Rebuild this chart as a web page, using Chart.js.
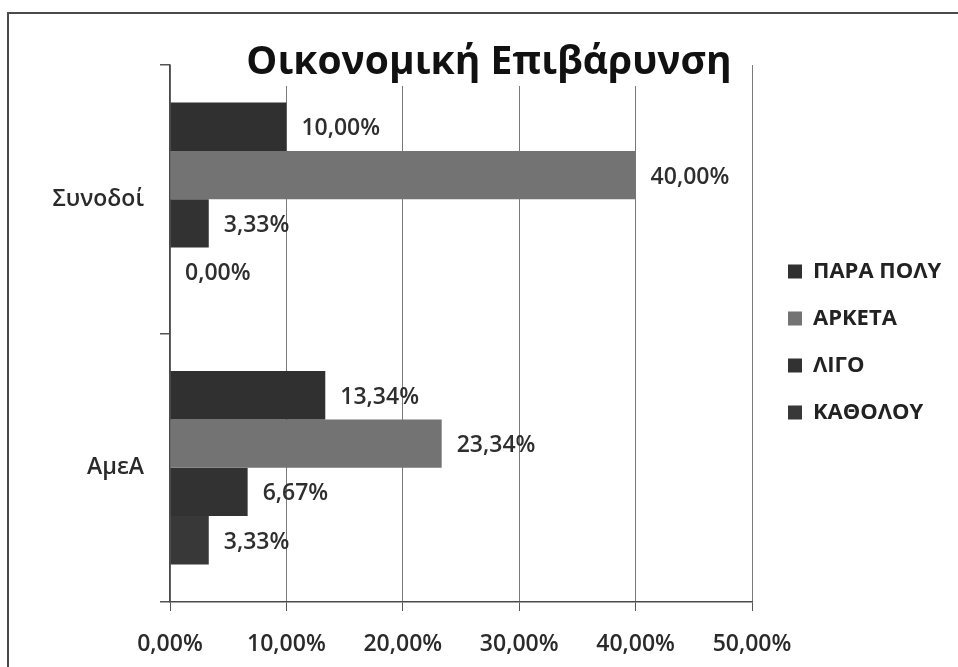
<!DOCTYPE html>
<html lang="el">
<head>
<meta charset="utf-8">
<title>Οικονομική Επιβάρυνση</title>
<script src="https://cdn.jsdelivr.net/npm/chart.js@4/dist/chart.umd.min.js"></script>
<style>
  html, body { margin: 0; padding: 0; background: #ffffff; }
  #wrap { position: relative; width: 958px; height: 667px; overflow: hidden; }
  #frame {
    position: absolute; left: 7px; top: 12px; right: -4px; bottom: -4px;
    border-top: 2px solid #4a4a4a; border-left: 2px solid #4a4a4a;
    pointer-events: none;
  }
  canvas { position: absolute; left: 0; top: 0; }
</style>
</head>
<body>
<div id="wrap">
  <canvas id="chart" width="958" height="667"></canvas>
  <div id="frame"></div>
</div>
<script>
// Categories, series and values (percent)
const categories = ['Συνοδοί', 'ΑμεΑ'];
const seriesNames = ['ΠΑΡΑ ΠΟΛΥ', 'ΑΡΚΕΤΑ', 'ΛΙΓΟ', 'ΚΑΘΟΛΟΥ'];
const paraPoly = [10.00, 13.34];
const arketa   = [40.00, 23.34];
const ligo     = [3.33, 6.67];
const katholou = [0.00, 3.33];
const xTickLabels = ['0,00%', '10,00%', '20,00%', '30,00%', '40,00%', '50,00%'];
const chartTitle = 'Οικονομική Επιβάρυνση';

const seriesValues = [paraPoly, arketa, ligo, katholou];
const seriesColors = ['#303030', '#737373', '#323232', '#383838'];

const FONT = '"Open Sans", "Noto Sans", sans-serif';
const legendFont = { family: FONT, size: 22, weight: 'bold' };
const legendPad = 25, legendBox = 14;

// Width the legend will take, so the plot ends where the 50% line belongs
const mctx = document.createElement('canvas').getContext('2d');
mctx.font = 'bold 22px ' + FONT;
const widestName = Math.max(...seriesNames.map(s => mctx.measureText(s).width));
const legendWidth = legendPad + legendBox + legendFont.size / 2 + widestName + 10;
const plotRight = 752;
const padRight = Math.max(0, 958 - plotRight - legendWidth);

const fmtPct = v => v.toFixed(2).replace('.', ',') + '%';

// Value labels to the right of each bar
const valueLabels = {
  id: 'valueLabels',
  afterDatasetsDraw(chart) {
    const ctx = chart.ctx;
    ctx.save();
    ctx.font = '600 23px ' + FONT;
    ctx.fillStyle = '#2e2e2e';
    ctx.textAlign = 'left';
    ctx.textBaseline = 'middle';
    chart.data.datasets.forEach((ds, di) => {
      chart.getDatasetMeta(di).data.forEach((bar, i) => {
        ctx.fillText(fmtPct(ds.data[i]), bar.x + 15, bar.y + 2);
      });
    });
    ctx.restore();
  }
};

// Title drawn over the top of the plot on a white band
const overlayTitle = {
  id: 'overlayTitle',
  afterDraw(chart) {
    const ctx = chart.ctx;
    ctx.save();
    ctx.font = 'bold 39px ' + FONT;
    const w = ctx.measureText(chartTitle).width;
    const cx = 489;
    ctx.fillStyle = '#ffffff';
    ctx.fillRect(cx - w / 2 - 6, 28, w + 12, 58);
    ctx.fillStyle = '#111111';
    ctx.textAlign = 'center';
    ctx.textBaseline = 'alphabetic';
    ctx.fillText(chartTitle, cx, 74);
    ctx.restore();
  }
};

// Legend sits a little clear of the plot edge and slightly above centre
const legendNudge = {
  id: 'legendNudge',
  afterLayout(chart) {
    const lg = chart.legend;
    if (lg) { lg.left += 11; lg.right += 11; lg.top -= 24; lg.bottom -= 24; }
  }
};

new Chart(document.getElementById('chart'), {
  type: 'bar',
  data: {
    labels: categories,
    datasets: seriesNames.map((name, k) => ({
      label: name,
      data: seriesValues[k],
      backgroundColor: seriesColors[k],
      borderWidth: 0,
      categoryPercentage: 0.72,
      barPercentage: 1.0
    }))
  },
  options: {
    indexAxis: 'y',
    responsive: false,
    animation: false,
    devicePixelRatio: 1,
    layout: { padding: { top: 65, bottom: 0, left: 0, right: padRight } },
    scales: {
      x: {
        min: 0, max: 50,
        ticks: {
          stepSize: 10,
          padding: 20,
          color: '#2a2a2a',
          font: { family: FONT, size: 23, weight: '600' },
          callback: (v, i) => xTickLabels[i]
        },
        grid: { color: '#7a7a7a', lineWidth: 1, tickLength: 9, tickColor: '#555555' },
        border: { color: '#4a4a4a', width: 1.5 },
        afterFit(scale) { scale.height = 65; }
      },
      y: {
        ticks: {
          padding: 16,
          color: '#2a2a2a',
          font: { family: FONT, size: 23, weight: '600' }
        },
        grid: { drawOnChartArea: false, tickLength: 10, color: '#555555', lineWidth: 1.5 },
        border: { color: '#4a4a4a', width: 1.5 },
        afterFit(scale) { scale.width = 170; }
      }
    },
    plugins: {
      title: { display: false },
      tooltip: { enabled: false },
      legend: {
        position: 'right',
        labels: {
          boxWidth: legendBox,
          boxHeight: legendBox,
          padding: legendPad,
          color: '#222222',
          font: legendFont
        }
      }
    }
  },
  plugins: [valueLabels, overlayTitle, legendNudge]
});
</script>
</body>
</html>
